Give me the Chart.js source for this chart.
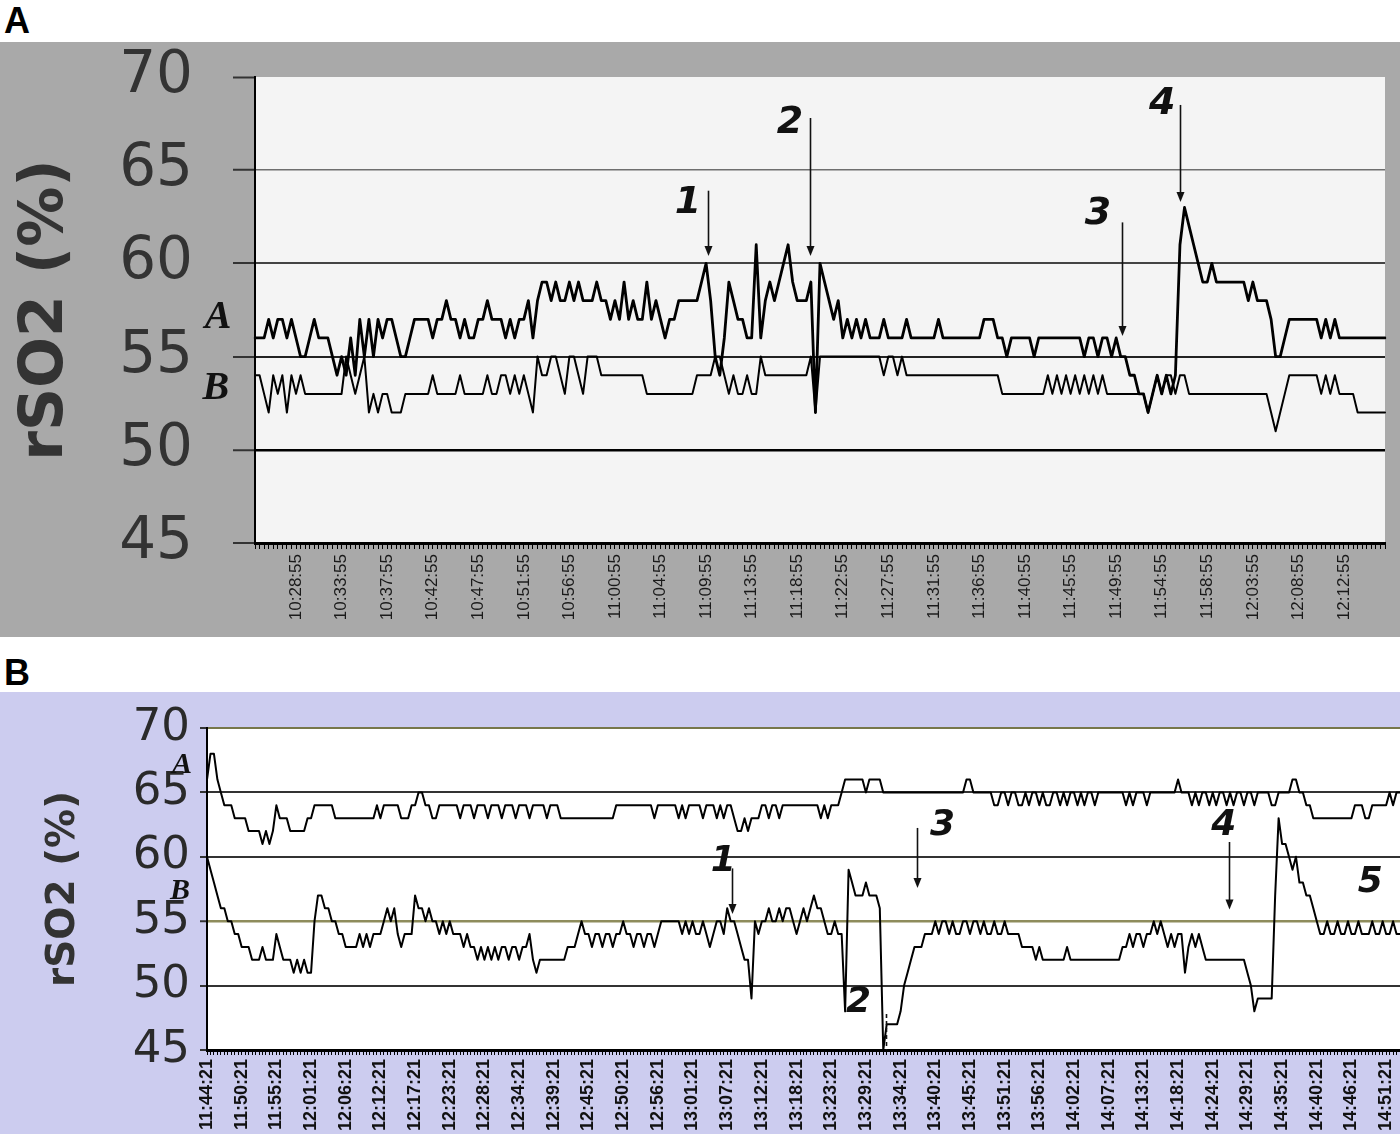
<!DOCTYPE html>
<html>
<head>
<meta charset="utf-8">
<script src="https://cdn.jsdelivr.net/npm/chart.js@4.4.1/dist/chart.umd.min.js"></script>
<style>
  html, body { margin: 0; padding: 0; background: #fff; }
  body { width: 1400px; height: 1134px; position: relative; overflow: hidden; }
  .panel-tag { position: absolute; left: 4px; font: bold 36px/36px "Liberation Sans", Arial, sans-serif; color: #000; }
  #wrapA { position: absolute; left: 0; top: 42px; width: 1400px; height: 595px; background: #a9a9a9; }
  #wrapB { position: absolute; left: 0; top: 692px; width: 1400px; height: 442px; background: #ccccef; }
  canvas { display: block; }
</style>
</head>
<body>
<div class="panel-tag" style="top:3px">A</div>
<div class="panel-tag" style="top:655px">B</div>
<div id="wrapA"><canvas id="chartA" width="1400" height="595"></canvas></div>
<div id="wrapB"><canvas id="chartB" width="1400" height="442"></canvas></div>
<script>
// ---- panel A : time labels + the two traces (rSO2 %, one value per sample)
const timesA = ['10:28:55','10:33:55','10:37:55','10:42:55','10:47:55','10:51:55','10:56:55','11:00:55',
  '11:04:55','11:09:55','11:13:55','11:18:55','11:22:55','11:27:55','11:31:55','11:36:55',
  '11:40:55','11:45:55','11:49:55','11:54:55','11:58:55','12:03:55','12:08:55','12:12:55'];

const panelA_A = [
  56,56,56,57,56,57,57,56,57,56, 55,55,56,57,56,56,56,55,54,55,
  54,56,54,57,55,57,55,57,56,57, 57,56,55,55,56,57,57,57,57,56,
  57,57,58,57,57,56,57,56,56,57, 57,58,57,57,57,56,57,56,57,57,
  58,56,58,59,59,58,59,58,58,59, 58,59,58,58,58,59,58,58,57,58,
  57,59,57,58,57,57,59,57,58,57, 56,57,57,58,58,58,58,58,59,60,
  58,55,54,56,59,58,57,57,56,56, 61,56,58,59,58,59,60,61,59,58,
  58,58,59,52,60,59,58,57,58,56, 57,56,57,56,57,56,56,56,57,56,
  56,56,56,57,56,56,56,56,56,56, 57,56,56,56,56,56,56,56,56,56,
  57,57,57,56,56,55,56,56,56,56, 56,55,56,56,56,56,56,56,56,56,
  56,56,55,56,56,55,56,56,55,56, 55,55,54,54,53,53,52,53,54,53,
  54,53,54,61,63,62,61,60,59,59, 60,59,59,59,59,59,59,59,58,59,
  58,58,58,57,55,55,56,57,57,57, 57,57,57,57,56,57,56,57,56,56,
  56,56,56,56,56,56,56,56,56];

const panelA_B = [
  54,54,53,52,54,53,54,52,54,53, 54,53,53,53,53,53,53,53,53,53,
  55,54,53,54,55,52,53,52,53,53, 52,52,52,53,53,53,53,53,53,54,
  53,53,53,53,53,54,53,53,53,53, 53,54,53,53,54,54,53,54,53,54,
  53,52,55,54,54,55,55,54,53,55, 55,54,53,55,55,55,54,54,54,54,
  54,54,54,54,54,54,53,53,53,53, 53,53,53,53,53,53,53,54,54,54,
  54,55,55,54,53,54,53,53,54,53, 53,55,54,54,54,54,54,54,54,54,
  54,54,55,52,55,55,55,55,55,55, 55,55,55,55,55,55,55,55,54,55,
  55,54,55,54,54,54,54,54,54,54, 54,54,54,54,54,54,54,54,54,54,
  54,54,54,54,53,53,53,53,53,53, 53,53,53,53,54,53,54,53,54,53,
  54,53,54,53,54,53,54,53,53,53, 53,53,53,53,53,53,52,53,54,53,
  54,54,53,54,54,53,53,53,53,53, 53,53,53,53,53,53,53,53,53,53,
  53,53,53,52,51,52,53,54,54,54, 54,54,54,54,53,54,53,54,53,53,
  53,53,52,52,52,52,52,52,52];

// ---- panel B
const timesB = ['11:44:21','11:50:21','11:55:21','12:01:21','12:06:21','12:12:21','12:17:21','12:23:21',
  '12:28:21','12:34:21','12:39:21','12:45:21','12:50:21','12:56:21','13:01:21','13:07:21',
  '13:12:21','13:18:21','13:23:21','13:29:21','13:34:21','13:40:21','13:45:21','13:51:21',
  '13:56:21','14:02:21','14:07:21','14:13:21','14:18:21','14:24:21','14:29:21','14:35:21',
  '14:40:21','14:46:21','14:51:21'];

const panelB_A = [
  66,68,68,66,65,64,64,64,63,63, 63,63,62,62,62,62,61,62,61,62,
  64,63,63,63,62,62,62,62,62,63, 63,64,64,64,64,64,64,63,63,63,
  63,63,63,63,63,63,63,63,63,64, 63,64,64,64,64,64,63,63,63,64,
  64,65,65,64,64,63,63,64,64,64, 64,64,64,63,64,64,64,63,64,64,
  64,63,64,64,64,63,64,64,64,63, 64,64,64,63,64,64,64,64,63,64,
  64,64,63,63,63,63,63,63,63,63, 63,63,63,63,63,63,63,63,64,64,
  64,64,64,64,64,64,64,64,64,63, 64,64,64,64,64,64,63,64,63,64,
  64,64,64,63,64,64,64,63,64,63, 64,64,63,62,62,63,62,63,63,63,
  64,64,63,64,64,63,64,64,64,64, 64,64,64,64,64,64,64,63,64,63,
  64,64,64,65,66,66,66,66,66,66, 65,66,66,66,66,65,65,65,65,65,
  65,65,65,65,65,65,65,65,65,65, 65,65,65,65,65,65,65,65,65,66,
  66,65,65,65,65,65,65,64,64,65, 65,64,65,65,64,64,65,64,65,65,
  64,65,64,64,65,65,64,65,64,65, 65,64,65,64,65,65,64,65,65,65,
  65,65,65,65,65,64,65,64,65,65, 65,64,65,65,65,65,65,65,65,65,
  66,65,65,65,64,65,64,65,65,64, 65,64,65,65,64,65,64,65,65,64,
  65,65,64,65,65,65,65,64,64,65, 65,65,65,66,66,65,65,64,64,63,
  63,63,63,63,63,63,63,63,63,63, 63,64,64,64,63,63,64,64,64,64,
  64,65,64,65,65];

const panelB_B = [
  60,59,58,57,56,56,55,55,54,54, 53,53,53,52,52,52,53,52,52,52,
  54,53,52,52,52,51,52,51,52,51, 51,55,57,57,56,56,55,55,54,54,
  53,53,53,53,54,53,54,53,54,54, 54,55,56,55,56,54,53,54,54,54,
  57,56,56,55,56,55,55,54,55,54, 55,54,54,54,53,54,53,53,52,53,
  52,53,52,53,52,53,53,52,53,53, 52,53,53,54,52,51,52,52,52,52,
  52,52,52,52,53,53,53,54,55,54, 54,53,54,54,53,54,54,53,54,54,
  55,54,54,53,54,54,53,54,54,53, 54,55,55,55,55,55,55,54,55,54,
  55,54,54,55,54,53,54,55,55,54, 56,55,55,54,53,52,52,49,55,54,
  55,55,56,55,55,56,55,56,56,55, 54,55,56,55,56,57,56,56,55,54,
  54,55,54,54,48,59,58,57,57,57, 58,57,57,57,56,45,47,47,47,47,
  48,50,51,52,53,53,53,54,54,54, 55,54,55,55,54,55,54,54,55,55,
  54,55,55,54,55,54,54,55,54,54, 55,54,54,54,54,53,53,53,53,52,
  53,52,52,52,52,52,52,52,53,52, 52,52,52,52,52,52,52,52,52,52,
  52,52,52,52,53,53,54,53,54,54, 53,54,54,55,54,55,54,53,54,53,
  54,54,51,53,54,53,54,53,52,52, 52,52,52,52,52,52,52,52,52,52,
  51,50,48,49,49,49,49,49,57,63, 61,61,60,59,60,58,58,57,57,56,
  55,54,54,55,54,54,55,54,54,55, 54,54,55,54,54,54,55,54,54,55,
  54,54,55,54,54];

// a time label sits on every 10th sample, starting at `first`
function categories(values, names, first) {
  return values.map((v, i) => {
    const k = (i - first) / 10;
    return (i >= first && Number.isInteger(k) && names[k]) ? names[k] : '';
  });
}

// plot background + arrows / numbers, placed in data units through the scales
const marks = {
  id: 'marks',
  beforeDraw(chart, args, opts) {
    if (!opts.plotBg) return;
    const { ctx, chartArea: a } = chart;
    ctx.save();
    ctx.fillStyle = opts.plotBg;
    ctx.fillRect(a.left, a.top, a.right - a.left, a.bottom - a.top);
    ctx.restore();
  },
  afterDatasetsDraw(chart, args, opts) {
    const { ctx, scales: { x, y } } = chart;
    ctx.save();
    ctx.strokeStyle = '#111';
    ctx.fillStyle = '#111';
    ctx.lineWidth = 1.6;
    (opts.arrows || []).forEach(a => {
      const px = Math.round(x.getPixelForValue(a.at)) + 0.5;
      const y0 = y.getPixelForValue(a.from), y1 = y.getPixelForValue(a.to);
      ctx.setLineDash(a.dash || []);
      ctx.beginPath();
      ctx.moveTo(px, y0);
      ctx.lineTo(px, a.head ? y1 - 8 : y1);
      ctx.stroke();
      if (a.head) {
        ctx.beginPath();
        ctx.moveTo(px - 4, y1 - 10);
        ctx.lineTo(px + 4, y1 - 10);
        ctx.lineTo(px, y1);
        ctx.closePath();
        ctx.fill();
      }
    });
    ctx.setLineDash([]);
    ctx.textAlign = 'center';
    ctx.textBaseline = 'middle';
    (opts.notes || []).forEach(n => {
      ctx.font = n.font;
      ctx.fillText(n.text, x.getPixelForValue(n.at), y.getPixelForValue(n.value));
    });
    ctx.restore();
  }
};
Chart.register(marks);

const numA = 'italic bold 38px "DejaVu Sans"';
const serA = 'italic bold 40px "Liberation Serif"';
const numB = 'italic bold 36px "DejaVu Sans"';
const serB = 'italic bold 30px "Liberation Serif"';

const gridA = { 70: ['rgba(0,0,0,0)', 1], 65: ['#6e6e6e', 1.5], 60: ['#444', 2], 55: ['#222', 2], 50: ['#000', 2.5], 45: ['#000', 2] };
const gridB = { 70: ['#77774a', 2], 65: ['#333', 2], 60: ['#333', 2], 55: ['#8e8c5c', 2.5], 50: ['#333', 2], 45: ['#000', 2] };

function lineSet(data, width) {
  return { data, borderColor: '#000', borderWidth: width, pointRadius: 0, tension: 0,
           borderJoinStyle: 'round', borderCapStyle: 'round', fill: false };
}

// fixed axis boxes so the plot area lands where the figure has it
const fixX = h => s => { s.height = h; s.paddingLeft = 0; s.paddingRight = 0; };
const fixY = w => s => { s.width = w; s.paddingTop = 0; s.paddingBottom = 0; };

new Chart(document.getElementById('chartA'), {
  type: 'line',
  data: {
    labels: categories(panelA_A, timesA, 9),
    datasets: [lineSet(panelA_B, 2), lineSet(panelA_A, 2.8)]
  },
  options: {
    responsive: false, animation: false, events: [],
    layout: { padding: { left: 0, top: 35, right: 15, bottom: 0 } },
    scales: {
      x: {
        afterFit: fixX(94),
        ticks: { autoSkip: false, minRotation: 90, maxRotation: 90, padding: 5, color: '#1a1a1a',
                 font: { family: 'Liberation Sans', size: 17 } },
        grid: { drawOnChartArea: false, drawTicks: true, tickLength: 6, tickColor: '#000', tickWidth: 1 },
        border: { color: '#000', width: 3 }
      },
      y: {
        min: 45, max: 70,
        afterFit: fixY(255),
        ticks: { stepSize: 5, padding: 40, color: '#333', font: { family: 'DejaVu Sans', size: 58 } },
        grid: { color: c => gridA[c.tick.value][0], lineWidth: c => gridA[c.tick.value][1],
                tickLength: 22, tickColor: '#333', tickWidth: 2 },
        border: { color: '#000', width: 2 },
        title: { display: true, text: 'rSO2 (%)', color: '#333', padding: { top: 10, bottom: 0 },
                 font: { family: 'DejaVu Sans', size: 60, weight: 'bold' } }
      }
    },
    plugins: {
      legend: { display: false }, tooltip: { enabled: false },
      marks: {
        plotBg: '#f4f4f4',
        arrows: [
          { at: 99.4, from: 63.9, to: 60.4, head: true },
          { at: 121.8, from: 67.8, to: 60.4, head: true },
          { at: 190.3, from: 62.2, to: 56.1, head: true },
          { at: 203.0, from: 68.5, to: 63.3, head: true }
        ],
        notes: [
          { text: '1', at: 95.0, value: 63.24, font: numA },
          { text: '2', at: 117.4, value: 67.5, font: numA },
          { text: '3', at: 185.0, value: 62.65, font: numA },
          { text: '4', at: 199.1, value: 68.55, font: numA },
          { text: 'A', at: -8.1, value: 57.07, font: serA },
          { text: 'B', at: -8.6, value: 53.3, font: serA }
        ]
      }
    }
  }
});

new Chart(document.getElementById('chartB'), {
  type: 'line',
  data: {
    labels: categories(panelB_A, timesB, 0),
    datasets: [lineSet(panelB_A, 2), lineSet(panelB_B, 2)]
  },
  options: {
    responsive: false, animation: false, events: [],
    layout: { padding: { left: 0, top: 36, right: 0, bottom: 0 } },
    scales: {
      x: {
        afterFit: fixX(84),
        ticks: { autoSkip: false, minRotation: 90, maxRotation: 90, padding: 4, color: '#111',
                 font: { family: 'Liberation Sans', size: 18, weight: 'bold' } },
        grid: { drawOnChartArea: false, drawTicks: true, tickLength: 5, tickColor: '#000', tickWidth: 1 },
        border: { color: '#000', width: 3 }
      },
      y: {
        min: 45, max: 70,
        afterFit: fixY(207),
        ticks: { stepSize: 5, padding: 10, color: '#2a2a2a', font: { family: 'DejaVu Sans', size: 45 } },
        grid: { color: c => gridB[c.tick.value][0], lineWidth: c => gridB[c.tick.value][1],
                tickLength: 7, tickColor: '#333', tickWidth: 2 },
        border: { color: '#000', width: 2 },
        title: { display: true, text: 'rSO2 (%)', color: '#333', padding: { top: 40, bottom: 0 },
                 font: { family: 'DejaVu Sans', size: 39, weight: 'bold' } }
      }
    },
    plugins: {
      legend: { display: false }, tooltip: { enabled: false },
      marks: {
        plotBg: '#ffffff',
        arrows: [
          { at: 151.5, from: 59.1, to: 55.56, head: true },
          { at: 204.6, from: 62.24, to: 57.58, head: true },
          { at: 294.7, from: 61.15, to: 55.9, head: true },
          { at: 195.7, from: 47.8, to: 45, dash: [4, 3] }
        ],
        notes: [
          { text: '1', at: 148.9, value: 59.6, font: numB },
          { text: '2', at: 187.9, value: 48.7, font: numB },
          { text: '3', at: 212.1, value: 62.4, font: numB },
          { text: '4', at: 293.2, value: 62.4, font: numB },
          { text: '5', at: 335.4, value: 58.0, font: numB },
          { text: 'A', at: -7.2, value: 67.1, font: serB },
          { text: 'B', at: -7.8, value: 57.3, font: serB }
        ]
      }
    }
  }
});
</script>
</body>
</html>
